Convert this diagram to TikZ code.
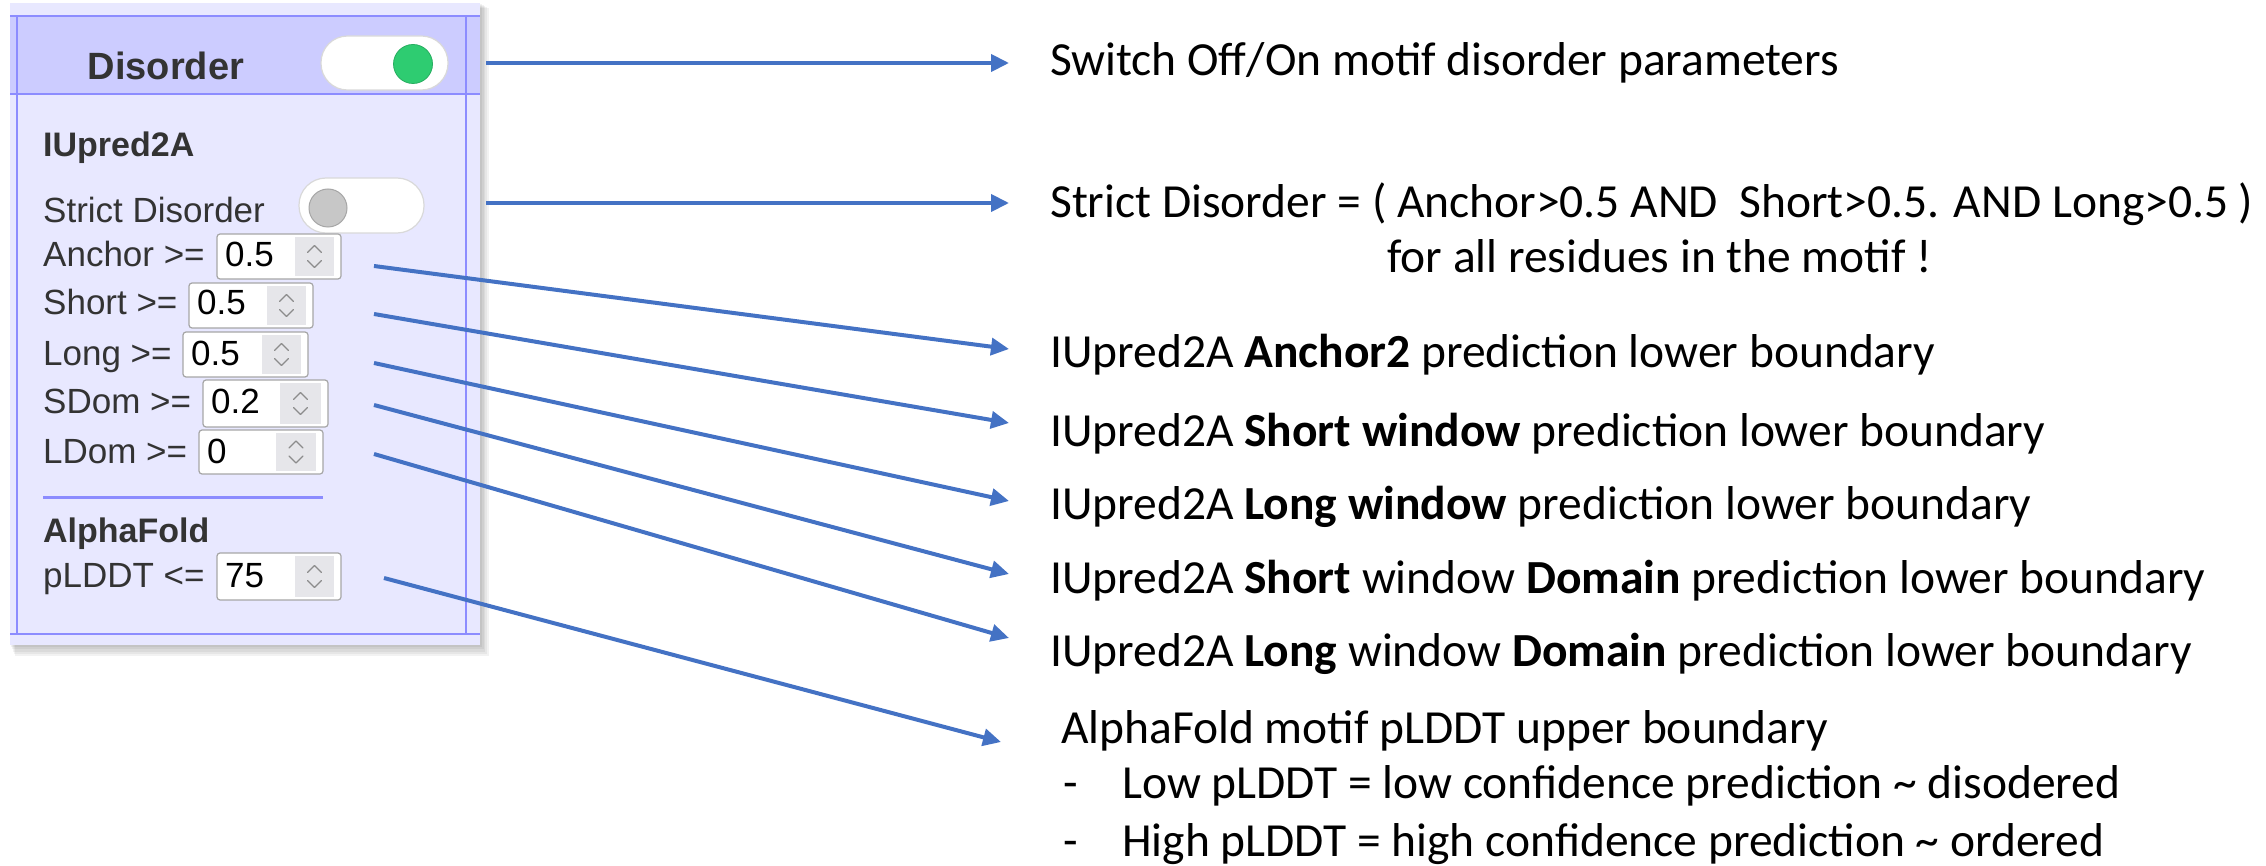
\documentclass[tikz,border=0pt]{standalone}
\usepackage{fontspec}
\setmainfont{Carlito}
\newfontfamily\uifont{Liberation Sans}
\usetikzlibrary{arrows.meta}
\definecolor{arrowblue}{HTML}{4472C4}
\definecolor{panelbg}{HTML}{E8E8FF}
\definecolor{headbg}{HTML}{CCCCFF}
\definecolor{panelline}{HTML}{8C8CFF}
\definecolor{uitext}{HTML}{333333}
\definecolor{spinbg}{HTML}{E6E6EA}
\definecolor{toggleg}{HTML}{2ECC71}
\newcommand\spinbox[8]{%
  \draw[fill=white, draw=black!35, rounded corners=3pt, line width=1.2pt] (#2,#3) rectangle (#4,#5);
  \fill[spinbg] (#6,#3+3) rectangle (#4-7,#5-3);
  \draw[black!45, line width=1.4pt, line cap=round, line join=round]
    ({(#6+#4-7)/2-7},{(#3+#5)/2-4}) -- ++(7,-7) -- ++(7,7)
    ({(#6+#4-7)/2-7},{(#3+#5)/2+4}) -- ++(7,7) -- ++(7,-7);
  \node[valtext] (#1) at (#2+8,#8) {#7};
}
\begin{document}
\begin{tikzpicture}[x=1pt,y=-1pt,
  uilabel/.style={anchor=base west, inner sep=0pt, text=uitext, font=\uifont\fontsize{35}{40}\selectfont},
  uibold/.style={anchor=base west, inner sep=0pt, text=uitext, font=\uifont\bfseries\fontsize{34}{40}\selectfont},
  valtext/.style={anchor=base west, inner sep=0pt, text=black, font=\uifont\fontsize{35}{40}\selectfont},
  desc/.style={anchor=base west, inner sep=0pt, text=black, font=\fontsize{47.5}{56}\selectfont},
  conn/.style={arrowblue, line width=4pt, -{Triangle[length=18pt,width=17pt]}},
  frame/.style={panelline, line width=1.5pt}
]
\useasboundingbox (0,0) rectangle (2266,866);
% shadow
\foreach \i in {1,...,5}{
  \fill[black, opacity=0.05] (10+\i,3+\i) rectangle (480+\i*1.8,645+\i*2.2);
}
% panel
\fill[panelbg] (10,3) rectangle (480,645);
\fill[headbg] (10,16) rectangle (480,94);
\draw[frame] (10,16) -- (480,16);
\draw[frame] (10,94) -- (480,94);
\draw[frame] (10,634) -- (480,634);
\draw[frame] (17,16) -- (17,634);
\draw[frame] (466,16) -- (466,634);
\draw[panelline, line width=3pt] (43,497) -- (323,497);

\node[anchor=base, inner sep=0pt, text=uitext, font=\uifont\bfseries\fontsize{38}{44}\selectfont] (title) at (166,80) {Disorder};
% toggles
\draw[fill=white, draw=black!15, line width=1.2pt, rounded corners=26.5pt] (321,36) rectangle (448,90);
\draw[fill=toggleg, draw=toggleg!85!black, line width=0.8pt] (413,64) circle[radius=19.5pt];
\draw[fill=white, draw=black!15, line width=1.2pt, rounded corners=27pt] (299,178) rectangle (424,233);
\draw[fill=black!22, draw=black!35, line width=1pt] (328,208) circle[radius=19pt];

\node[uibold] (iupred) at (43,157) {IUpred2A};
\node[uilabel] (strict) at (43,223) {Strict Disorder};
\node[uilabel] (anchor) at (43,267) {Anchor >=};
\node[uilabel] (short) at (43,315) {Short >=};
\node[uilabel] (long) at (43,365) {Long >=};
\node[uilabel] (sdom) at (43,413) {SDom >=};
\node[uilabel] (ldom) at (43,463) {LDom >=};
\node[uibold] (alpha) at (43,542) {AlphaFold};
\node[uilabel] (plddt) at (43,587) {pLDDT <=};

\spinbox{vanchor}{217}{234}{341}{279}{295}{0.5}{267}
\spinbox{vshort}{189}{283}{313}{328}{267}{0.5}{315}
\spinbox{vlong}{183}{332}{308}{377}{262}{0.5}{365}
\spinbox{vsdom}{203}{380}{328}{427}{280}{0.2}{413}
\spinbox{vldom}{199}{430}{323}{474}{276}{0}{463}
\spinbox{vplddt}{217}{553}{341}{600}{295}{75}{587}

% descriptions
\node[desc] (d1) at (1050,76) {Switch Off/On motif disorder parameters};
\node[desc] (d2) at (1050,218) {Strict Disorder = ( Anchor>0.5 AND~ Short>0.5. AND Long>0.5 )};
\node[desc] (d2b) at (1387,273) {for all residues in the motif !};
\node[desc] (d3) at (1050,367) {IUpred2A \textbf{Anchor2} prediction lower boundary};
\node[desc] (d4) at (1050,446) {IUpred2A \textbf{Short window} prediction lower boundary};
\node[desc] (d5) at (1050,519) {IUpred2A \textbf{Long window} prediction lower boundary};
\node[desc] (d6) at (1050,593) {IUpred2A \textbf{Short} window \textbf{Domain} prediction lower boundary};
\node[desc] (d7) at (1050,666) {IUpred2A \textbf{Long} window \textbf{Domain} prediction lower boundary};
\node[desc] (d8) at (1061,743) {AlphaFold motif pLDDT upper boundary};
\node[desc] (d9a) at (1063,798) {-};
\node[desc] (d9) at (1122,798) {Low pLDDT = low confidence prediction \textasciitilde{} disodered};
\node[desc] (d10a) at (1063,856) {-};
\node[desc] (d10) at (1122,856) {High pLDDT = high confidence prediction \textasciitilde{} ordered};

% connector ends
\coordinate (s1) at (486,63);  \coordinate (e1) at (1009,63);
\coordinate (s2) at (486,203); \coordinate (e2) at (1009,203);
\coordinate (s3) at (374,266); \coordinate (e3) at (1009,349);
\coordinate (s4) at (374,314); \coordinate (e4) at (1009,423);
\coordinate (s5) at (374,363); \coordinate (e5) at (1009,501);
\coordinate (s6) at (374,405); \coordinate (e6) at (1009,574);
\coordinate (s7) at (374,454); \coordinate (e7) at (1009,638);
\coordinate (s8) at (384,578); \coordinate (e8) at (1001,742);
\foreach \k in {1,...,8}{ \draw[conn] (s\k) -- (e\k); }
\end{tikzpicture}
\end{document}
